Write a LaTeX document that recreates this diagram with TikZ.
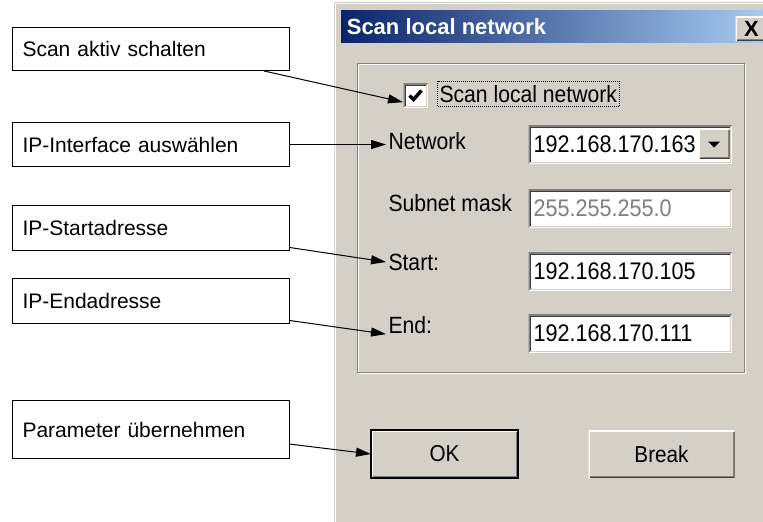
\documentclass[tikz,border=0pt]{standalone}
\usepackage{fontspec}
\setmainfont{Liberation Sans}
\newfontfamily\dlgfont[FakeStretch=0.9]{Liberation Sans}
\usetikzlibrary{arrows.meta}

\definecolor{winface}{HTML}{D4D0C8}
\definecolor{winshadow}{HTML}{808080}
\definecolor{windark}{HTML}{404040}
\definecolor{titledark}{HTML}{0A246A}
\definecolor{titlelight}{HTML}{A6CAF0}

\tikzset{
	note/.style={draw, fill=white, anchor=north west, minimum width=277, minimum height=44,
		inner xsep=10, text width=257, align=left, font=\fontsize{21}{25}\selectfont},
	pointer/.style={-{Triangle[length=15,width=9]}},
	lbl/.style={anchor=west, inner xsep=2, inner ysep=0, font=\dlgfont\fontsize{23.5}{27}\selectfont},
	entry/.style={sunken, anchor=north west, minimum width=203, minimum height=38, inner xsep=5,
		text width=193, align=left, font=\dlgfont\fontsize{24}{28}\selectfont},
	btn/.style={raised, anchor=north west, minimum width=146, minimum height=47,
		font=\dlgfont\fontsize{23}{27}\selectfont},
	sunken/.style={fill=white, path picture={
		\draw[winshadow, line width=2] (path picture bounding box.south west) |- (path picture bounding box.north east);
		\draw[white, line width=2] (path picture bounding box.south west) -| (path picture bounding box.north east);
		\draw[windark] ([shift={(1.5,-1.5)}]path picture bounding box.south west) |- ([shift={(-1.5,1.5)}]path picture bounding box.north east);
		\draw[winface] ([shift={(1.5,-1.5)}]path picture bounding box.south west) -| ([shift={(-1.5,1.5)}]path picture bounding box.north east);
	}},
	raised/.style={fill=winface, path picture={
		\draw[windark, line width=2] (path picture bounding box.south west) -| (path picture bounding box.north east);
		\draw[white, line width=2] (path picture bounding box.south west) |- (path picture bounding box.north east);
		\draw[winshadow] ([shift={(1.5,-1.5)}]path picture bounding box.south west) -| ([shift={(-1.5,1.5)}]path picture bounding box.north east);
	}}
}

\begin{document}
\begin{tikzpicture}[x=1pt, y=-1pt, line width=1pt]
	\fill[white] (0,0) rectangle (763,522);
	\useasboundingbox (0,0) rectangle (763,522);

	% window frame and title bar
	\fill[winface] (334,2) rectangle (763,522);
	\draw[white] (335.5,522) |- (763,3.5);
	\shade[left color=titledark, right color=titlelight] (341,10) rectangle (763,42);
	\node[anchor=west, text=white, font=\bfseries\fontsize{22}{26}\selectfont] (T1) at (343,27) {Scan local network};
	\node[raised, anchor=north west, minimum width=32, minimum height=24, inner sep=0,
		font=\bfseries\fontsize{22}{26}\selectfont] (X1) at (735,16) {X};

	% group box
	\draw[white] (358.5,64.5) rectangle (745.5,373.5);
	\draw[winshadow] (357.5,63.5) rectangle (744.5,372.5);

	% checkbox
	\node[sunken, anchor=north west, minimum width=24, minimum height=24, inner sep=0] (K1) at (403,83) {};
	\draw[line width=3.5] ([shift={(-6,0)}]K1.center) -- ([shift={(-2,4)}]K1.center) -- ([shift={(6,-5)}]K1.center);
	\node[lbl, inner ysep=4, draw, dash pattern=on 1 off 1] (L0) at (437,94) {Scan local network};

	% labels and fields
	\node[lbl] (L1) at (386,141) {Network};
	\node[lbl] (L2) at (386,203) {Subnet mask};
	\node[lbl] (L3) at (386,262) {Start:};
	\node[lbl] (L4) at (386,325) {End:};

	\node[entry] (F1) at (528,125) {192.168.170.163};
	\node[entry, text=winshadow] (F2) at (528,189) {255.255.255.0};
	\node[entry] (F3) at (528,252) {192.168.170.105};
	\node[entry] (F4) at (528,314) {192.168.170.111};

	\node[raised, anchor=north west, minimum width=31, minimum height=30, inner sep=0] (D1) at (698,128) {};
	\fill ([shift={(-6,-2)}]D1.center) -- ([shift={(6,-2)}]D1.center) -- ([shift={(0,4)}]D1.center) -- cycle;

	% buttons
	\node[btn] (B1) at (371,430) {OK};
	\draw[line width=2] (B1.north west) rectangle (B1.south east);
	\node[btn] (B2) at (588,430) {Break};

	% callouts
	\node[note, minimum height=43] (C1) at (12,27) {Scan aktiv schalten};
	\node[note] (C2) at (12,122) {IP-Interface auswählen};
	\node[note, minimum height=45] (C3) at (12,205) {IP-Startadresse};
	\node[note, minimum height=45] (C4) at (12,278) {IP-Endadresse};
	\node[note, minimum height=58] (C5) at (12,400) {Parameter übernehmen};

	\draw[pointer] (C1.-11) -- (K1.208);
	\draw[pointer] (C2.east) -- (L1.west |- C2.east);
	\draw[pointer] (C3.-8) -- (L3.west);
	\draw[pointer] (C4.-8) -- (L4.south west);
	\draw[pointer] (C5.-6) -- (B1.west);
\end{tikzpicture}
\end{document}
